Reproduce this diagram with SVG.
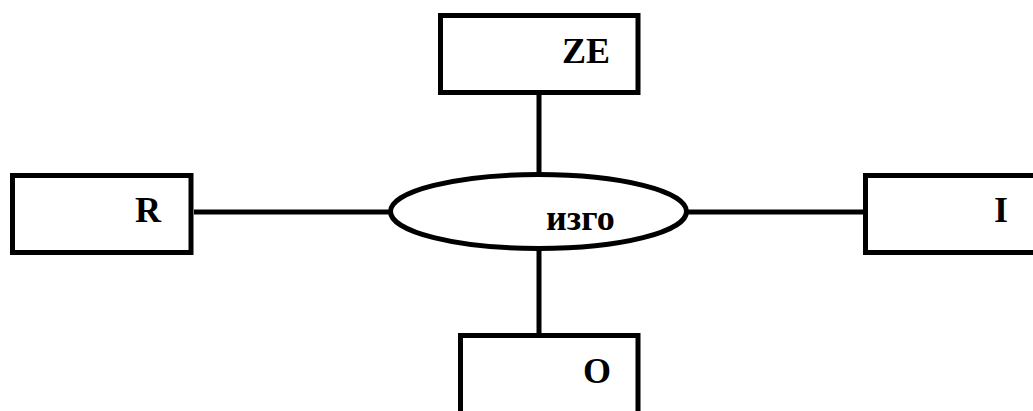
<svg xmlns="http://www.w3.org/2000/svg" width="1033" height="411" viewBox="0 0 1033 411">
<style>
.box{fill:#fff;stroke:#000;stroke-width:5}
.ln{stroke:#000;stroke-width:5;fill:none}
.t{font-family:'Liberation Serif', 'Times New Roman', Tinos, serif;font-weight:700;font-size:36px;fill:#000}
</style>
<rect width="1033" height="411" fill="#fff"/>
<g id="connectors">
<line class="ln" x1="539" y1="92" x2="539" y2="174"/>
<line class="ln" x1="539" y1="249" x2="539" y2="335"/>
<line class="ln" x1="194" y1="212" x2="391" y2="212"/>
<line class="ln" x1="686" y1="212" x2="865" y2="212"/>
</g>
<g id="node-ZE">
<rect class="box" x="440.5" y="15.5" width="197.5" height="77"/>
<text class="t" x="562" y="63">ZE</text>
</g>
<g id="node-R">
<rect class="box" x="12.5" y="175.5" width="178.5" height="77"/>
<text class="t" x="135" y="222">R</text>
</g>
<g id="node-I">
<rect class="box" x="865.5" y="175.5" width="180" height="77"/>
<text class="t" x="994" y="222">I</text>
</g>
<g id="node-O">
<rect class="box" x="460.5" y="335.5" width="177.5" height="90"/>
<text class="t" x="583" y="383">O</text>
</g>
<g id="node-izgo">
<ellipse class="box" cx="538.5" cy="211.5" rx="148" ry="37"/>
<text class="t" x="546" y="230">изго</text>
</g>
</svg>
